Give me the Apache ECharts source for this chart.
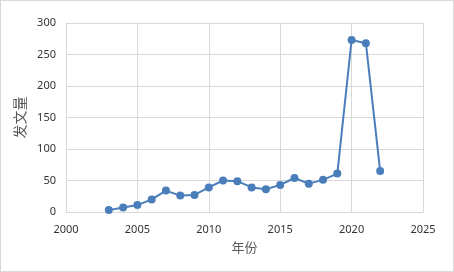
<!DOCTYPE html>
<html><head><meta charset="utf-8">
<script src="https://cdn.jsdelivr.net/npm/echarts@6/dist/echarts.min.js"></script>
<style>html,body{margin:0;padding:0;background:#fff}#c{width:454px;height:272px;box-sizing:border-box;border:1px solid #d9d9d9}</style>
</head><body><div id="c"></div>
<script>
const years = [2003,2004,2005,2006,2007,2008,2009,2010,2011,2012,2013,2014,2015,2016,2017,2018,2019,2020,2021,2022];
const counts = [3,7,11,20,34,26,27,39,50,49,39,36,43,54,45,51,61,273,268,65];
const xName = '年份';
const yName = '发文量';
const chart = echarts.init(document.getElementById('c'), null, {renderer:'canvas'});
const grid = '#d9d9d9';
chart.setOption({
  animation:false,
  grid:{left:65,right:30,top:22,bottom:59},
  xAxis:{type:'value',min:2000,max:2025,interval:5,name:xName,nameLocation:'middle',nameGap:29,
    nameTextStyle:{fontSize:13,color:'#595959',fontFamily:'Noto Sans CJK SC'},
    axisLine:{show:true,lineStyle:{color:grid}},axisTick:{show:false},
    axisLabel:{fontSize:11,color:'#333',margin:12,fontFamily:'Noto Sans',formatter:v=>String(v)},
    splitLine:{show:true,lineStyle:{color:grid}}},
  yAxis:{type:'value',min:0,max:300,interval:50,name:yName,nameLocation:'middle',nameGap:38,nameRotate:90,
    nameTextStyle:{fontSize:14,color:'#595959',fontFamily:'Noto Sans CJK SC'},
    axisLine:{show:true,lineStyle:{color:grid}},axisTick:{show:false},
    axisLabel:{fontSize:11,color:'#333',margin:10,fontFamily:'Noto Sans'},
    splitLine:{show:true,lineStyle:{color:grid}}},
  series:[{type:'line',data:years.map((y,i)=>[y,counts[i]]),symbol:'circle',symbolSize:8,
    itemStyle:{color:'#4a7ebb'},lineStyle:{color:'#4a7ebb',width:2}}]
});
</script></body></html>
